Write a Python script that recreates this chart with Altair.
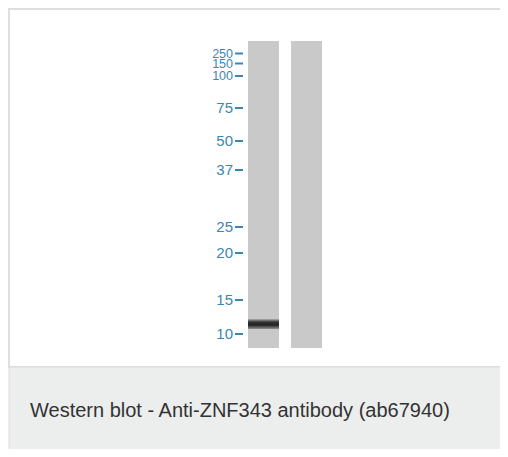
import altair as alt
import pandas as pd

lanes = ["1", "2"]
lane_top = [0, 0]
lane_bottom = [307, 307]

marker_kda = ["250", "150", "100", "75", "50", "37", "25", "20", "15", "10"]
marker_pos = [12.5, 22.5, 35, 67, 100, 129, 186, 212, 259, 293]  # migration distance from lane top

band_lane = ["1"]
band_top = [278]
band_bottom = [288]

caption = ["Western blot - Anti-ZNF343 antibody (ab67940)"]

BLUE = "#3c86b0"
LANE_GRAY = "#c9c9c9"

lanes_df = pd.DataFrame({"lane": lanes, "top": lane_top, "bottom": lane_bottom})
markers_df = pd.DataFrame({"kda": marker_kda, "pos": marker_pos})
band_df = pd.DataFrame({"lane": band_lane, "top": band_top, "bottom": band_bottom})
cap_df = pd.DataFrame({"text": caption})
one = pd.DataFrame({"k": [0]})

yscale = alt.Scale(domain=[0, 307], reverse=True, nice=False, zero=False)
xscale = alt.Scale(domain=lanes, paddingInner=0.28, paddingOuter=0.116)

frame = alt.Chart(one).mark_rect(fill="white", stroke="#dedede", strokeWidth=2).encode(
    x=alt.value(-234), x2=alt.value(300), y=alt.value(-32), y2=alt.value(326)
)
cap_bg = alt.Chart(one).mark_rect(fill="#eceeed", stroke="#dcdcdc", strokeWidth=1).encode(
    x=alt.value(-234), x2=alt.value(300), y=alt.value(326), y2=alt.value(430)
)
cap_text = alt.Chart(cap_df).mark_text(
    align="left", baseline="alphabetic", fontSize=20, font="Liberation Sans", color="#333333"
).encode(x=alt.value(-213), y=alt.value(376), text="text:N")

lane_bars = alt.Chart(lanes_df).mark_bar(color=LANE_GRAY).encode(
    x=alt.X("lane:N", scale=xscale, axis=alt.Axis(
        orient="top", title=None, ticks=False, domain=False, labelAngle=0,
        labelColor=BLUE, labelFontSize=14, labelFont="Liberation Sans",
        labelFontWeight="bold", labelPadding=6)),
    y=alt.Y("top:Q", scale=yscale, axis=None),
    y2="bottom:Q",
)

band = alt.Chart(band_df).mark_bar(
    color=alt.Gradient(
        gradient="linear", x1=0, y1=0, x2=0, y2=1,
        stops=[
            alt.GradientStop(color="#b0b0b0", offset=0),
            alt.GradientStop(color="#333333", offset=0.3),
            alt.GradientStop(color="#222222", offset=0.6),
            alt.GradientStop(color="#909090", offset=1),
        ],
    )
).encode(
    x=alt.X("lane:N", scale=xscale),
    y=alt.Y("top:Q", scale=yscale),
    y2="bottom:Q",
)

ticks = alt.Chart(markers_df).mark_rule(color=BLUE, strokeWidth=2).encode(
    x=alt.value(-8), x2=alt.value(0), y=alt.Y("pos:Q", scale=yscale)
)
labels = alt.Chart(markers_df).mark_text(
    align="right", baseline="middle", font="Liberation Sans", color=BLUE
).encode(
    x=alt.value(-10),
    y=alt.Y("pos:Q", scale=yscale),
    text="kda:N",
    size=alt.condition("datum.pos < 40", alt.value(12.5), alt.value(15)),
)

chart = alt.layer(frame, cap_bg, cap_text, lane_bars, band, ticks, labels).properties(
    width=84, height=307,
    autosize=alt.AutoSizeParams(type="none"),
    padding={"left": 235, "top": 33, "right": 173, "bottom": 101},
).configure_view(stroke=None)

chart.save("out.html", embed_options={"renderer": "svg", "actions": False})
